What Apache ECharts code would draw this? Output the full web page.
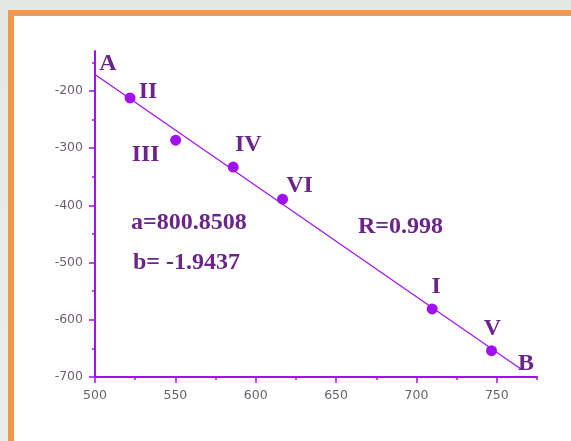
<!DOCTYPE html>
<html>
<head>
<meta charset="utf-8">
<script src="https://cdn.jsdelivr.net/npm/echarts@6/dist/echarts.min.js"></script>
<style>
  html, body { margin: 0; padding: 0; }
  body { width: 571px; height: 441px; background: linear-gradient(#e4e8e4, #e9eeea); position: relative; overflow: hidden; }
  #frame { position: absolute; left: 8px; top: 10px; width: 620px; height: 480px; background: #fff; border: 6px solid #f7974c; box-sizing: border-box; }
  #chart { position: absolute; left: 0; top: 0; width: 571px; height: 441px; }
</style>
</head>
<body>
<div id="frame"></div>
<div id="chart"></div>
<script>
// Measured points
const pointNames = ['II', 'III', 'IV', 'VI', 'I', 'V'];
const xValues = [521.8, 550.2, 586.0, 616.7, 709.8, 746.7];
const yValues = [-212, -286, -333, -389, -581, -654];

// Linear fit y = a + b·x
const fitA = 800.8508;
const fitB = -1.9437;
const fitR = 0.998;
const fitRange = [500, 765];
const fitEndNames = ['A', 'B'];

// Axis ticks
const xMajorTicks = [500, 550, 600, 650, 700, 750];
const xMinorTicks = [525, 575, 625, 675, 725, 775];
const yMajorTicks = [-700, -600, -500, -400, -300, -200];
const yMinorTicks = [-650, -550, -450, -350, -250, -150];
const xExtent = [500, 775];
const yExtent = [-700, -130];

const violet = '#a010f0';
const textPurple = '#6b2489';
const serif = '"Liberation Serif", "Times New Roman", serif';
const bigSize = 24;

const labelOffsets = {
  'II': [18, -6], 'III': [-30, 15], 'IV': [15, -22], 'VI': [17, -13],
  'I': [4, -22], 'V': [1, -22], 'A': [13, -11], 'B': [5, -5]
};

const bigLabel = name => ({
  show: true, formatter: name, position: 'inside',
  offset: labelOffsets[name],
  color: textPurple, fontFamily: serif, fontWeight: 'bold', fontSize: bigSize
});

const pointData = pointNames.map((n, i) => ({
  value: [xValues[i], yValues[i]], label: bigLabel(n)
}));
const fitData = fitRange.map((x, i) => ({
  value: [x, fitA + fitB * x], label: bigLabel(fitEndNames[i])
}));

const tickLabel = { color: '#6a5f6e', fontFamily: '"DejaVu Sans", Verdana, sans-serif', fontSize: 12.5 };

const chart = echarts.init(document.getElementById('chart'));
chart.setOption({
  animation: false,
  grid: { left: 95, top: 51, right: 34, bottom: 64 },
  xAxis: [{
    type: 'value', min: xExtent[0], max: xExtent[1],
    axisLine: { onZero: false, lineStyle: { color: violet, width: 2 } },
    axisTick: { customValues: xMajorTicks, length: 6, lineStyle: { color: violet, width: 1.5 } },
    axisLabel: Object.assign({ customValues: xMajorTicks, margin: 12 }, tickLabel),
    splitLine: { show: false }
  }, {
    type: 'value', position: 'bottom', min: xExtent[0], max: xExtent[1],
    axisLine: { show: false, onZero: false },
    axisTick: { customValues: xMinorTicks, length: 3, lineStyle: { color: violet, width: 1.5 } },
    axisLabel: { show: false },
    splitLine: { show: false }
  }],
  yAxis: [{
    type: 'value', min: yExtent[0], max: yExtent[1],
    axisLine: { show: true, onZero: false, lineStyle: { color: violet, width: 2 } },
    axisTick: { show: true, customValues: yMajorTicks, length: 6, lineStyle: { color: violet, width: 1.5 } },
    axisLabel: Object.assign({ customValues: yMajorTicks, margin: 12 }, tickLabel),
    splitLine: { show: false }
  }, {
    type: 'value', position: 'left', min: yExtent[0], max: yExtent[1],
    axisLine: { show: false, onZero: false },
    axisTick: { show: true, customValues: yMinorTicks, length: 3, lineStyle: { color: violet, width: 1.5 } },
    axisLabel: { show: false },
    splitLine: { show: false }
  }],
  series: [{
    type: 'line', data: fitData, xAxisIndex: 0, yAxisIndex: 0,
    symbol: 'circle', symbolSize: 0.01, showSymbol: true,
    itemStyle: { color: violet, opacity: 1 },
    lineStyle: { color: violet, width: 1.2 }, silent: true
  }, {
    type: 'scatter', data: pointData, xAxisIndex: 0, yAxisIndex: 0,
    symbol: 'circle', symbolSize: 11,
    itemStyle: { color: violet, opacity: 1 }
  }],
  graphic: [
    { type: 'text', left: 131, top: 211, style: { text: 'a=' + fitA.toFixed(4), fill: textPurple, font: 'bold ' + bigSize + 'px ' + serif } },
    { type: 'text', left: 133, top: 251, style: { text: 'b= ' + fitB.toFixed(4), fill: textPurple, font: 'bold ' + bigSize + 'px ' + serif } },
    { type: 'text', left: 358, top: 215, style: { text: 'R=' + fitR.toFixed(3), fill: textPurple, font: 'bold ' + bigSize + 'px ' + serif } }
  ]
});
</script>
</body>
</html>
